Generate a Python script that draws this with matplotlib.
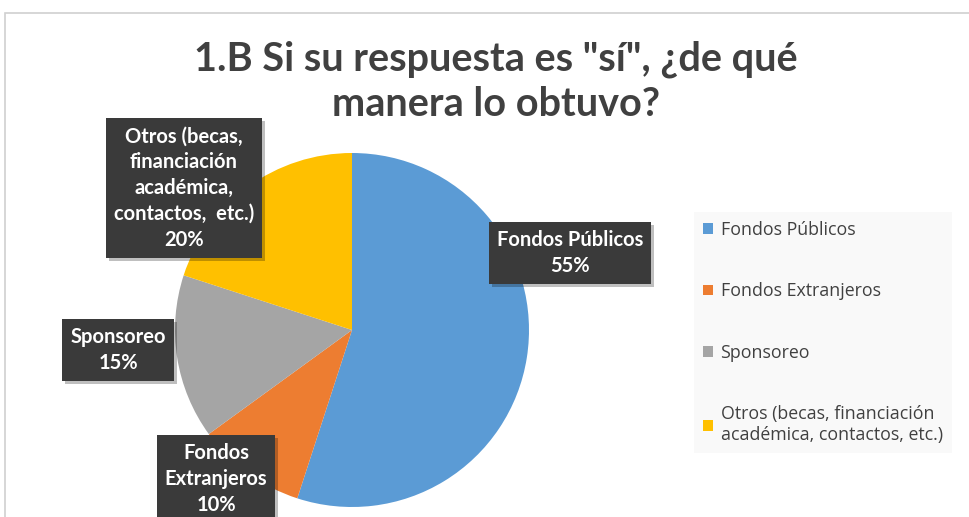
import matplotlib
matplotlib.use("Agg")
import matplotlib.pyplot as plt
from matplotlib.patches import Rectangle

categories = ["Fondos Públicos", "Fondos Extranjeros", "Sponsoreo",
              "Otros (becas, financiación académica, contactos, etc.)"]
values = [55, 10, 15, 20]
colors = ["#5b9bd5", "#ed7d31", "#a5a5a5", "#ffc000"]
label_texts = ["Fondos Públicos\n55%", "Fondos\nExtranjeros\n10%", "Sponsoreo\n15%",
               "Otros (becas,\nfinanciación\nacadémica,\ncontactos,  etc.)\n20%"]
legend_labels = ["Fondos Públicos", "Fondos Extranjeros", "Sponsoreo",
                 "Otros (becas, financiación\nacadémica, contactos, etc.)"]
title = '1.B Si su respuesta es "sí", ¿de qué\nmanera lo obtuvo?'

W, H = 970, 517
fig = plt.figure(figsize=(W / 100, H / 100), dpi=100)
ax = fig.add_axes([0, 0, 1, 1])

# chart border
ax.add_patch(Rectangle((5, -20), 1000, H - 13 + 20, fill=False, edgecolor="#d0d0d0", lw=1.2))

wedges, _ = ax.pie(values, colors=colors, startangle=90, counterclock=False,
                   center=(352, 187), radius=177, frame=True)
ax.set_xlim(0, W)
ax.set_ylim(0, H)
ax.set_aspect("equal")
ax.axis("off")

# data labels
label_pos = [(570, 264), (216, 38), (118, 167), (184, 329)]
font = "Lato"
labels = []
for (x, y), t in zip(label_pos, label_texts):
    labels.append(ax.text(x, y, t, ha="center", va="center", fontsize=14.5, fontweight="bold",
                          family=font, color="white", linespacing=1.36, zorder=5,
                          bbox=dict(boxstyle="square,pad=0.4", fc="#3a3a3a", ec="none")))

fig.canvas.draw()
renderer = fig.canvas.get_renderer()
inv = ax.transData.inverted()
for lab in labels:
    ext = lab.get_bbox_patch().get_window_extent(renderer)
    (x0, y0), (x1, y1) = inv.transform([(ext.x0, ext.y0), (ext.x1, ext.y1)])
    ax.add_patch(Rectangle((x0 + 3, y0 - 3), x1 - x0, y1 - y0, fc="black", ec="none",
                           alpha=0.25, zorder=4))

# title
ax.text(496, 435, title, ha="center", va="center", fontsize=28.5, fontweight="bold",
        family=font, color="#404040", linespacing=1.28)

# legend
leg = ax.legend(wedges, legend_labels, loc="upper left", bbox_to_anchor=(685 / W, 314 / H),
                frameon=True, labelspacing=2.45, handlelength=0.55,
                handleheight=0.55, handletextpad=0.45, borderpad=0.5,
                prop=dict(family="Open Sans", size=12.8))
leg.get_frame().set_facecolor("#f8f8f8")
leg.get_frame().set_edgecolor("none")
leg.get_frame().set_boxstyle("square", pad=0)
for txt in leg.get_texts():
    txt.set_color("#404040")

fig.savefig("out.png", dpi=100, facecolor="white")
